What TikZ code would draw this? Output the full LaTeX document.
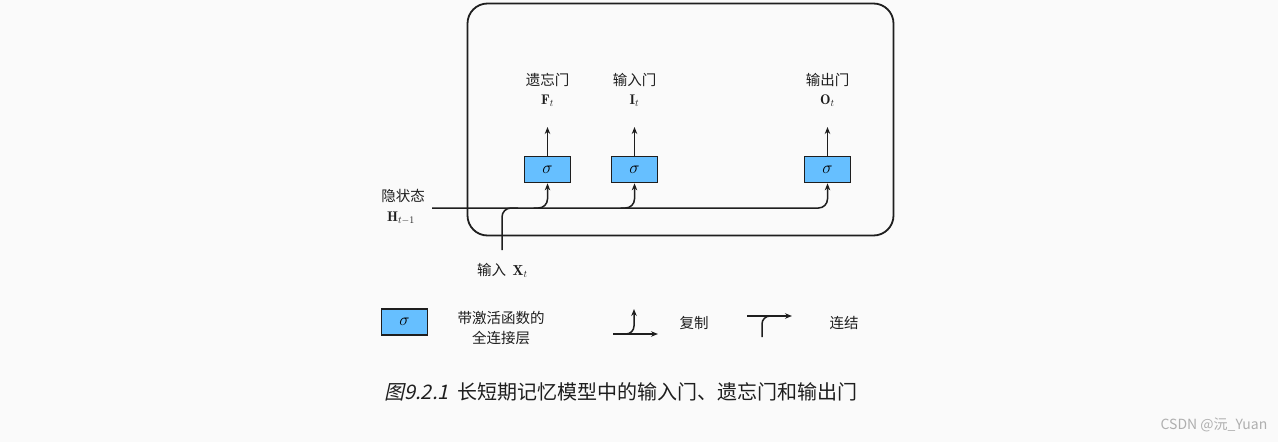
\documentclass[tikz,border=0pt]{standalone}
\usepackage{fontspec}
\newfontfamily\cjk{Noto Sans CJK SC}
\newfontfamily\capitfont[FakeSlant=0.22]{Noto Sans CJK SC}
\usetikzlibrary{arrows.meta}
\definecolor{bg}{RGB}{250,250,250}
\definecolor{sigblue}{RGB}{102,191,255}
\definecolor{ink}{RGB}{30,30,30}
\definecolor{wm}{RGB}{175,175,175}
\begin{document}
\begin{tikzpicture}[x=1pt,y=-1pt,
  >={Stealth[length=7pt,width=5.5pt]},
  wire/.style={draw=ink,line width=1.5pt},
  sigbox/.style={draw=ink,fill=sigblue,line width=1.7pt,minimum width=46pt,minimum height=26pt,inner sep=0pt,font=\fontsize{16}{18}\selectfont},
  lab/.style={inner sep=0pt,text=ink,font=\cjk\fontsize{14.5}{17}\selectfont},
  mlab/.style={inner sep=0pt,text=ink,font=\fontsize{14}{16}\selectfont}]
\useasboundingbox[fill=bg] (0,0) rectangle (1278,442);
% cell
\node[draw=ink,line width=1.8pt,rounded corners=20pt,minimum width=426pt,minimum height=232pt,inner sep=0pt] (cell) at (680.5,119.5) {};
% gates
\node[sigbox] (g1) at (547.5,169.5) {$\sigma$};
\node[sigbox] (g2) at (634.5,169.5) {$\sigma$};
\node[sigbox] (g3) at (827.5,169.5) {$\sigma$};
% labels
\node[lab] (l1) at (547.5,80) {遗忘门};
\node[mlab] (m1) at (547.5,101) {$\mathbf{F}_t$};
\node[lab] (l2) at (634.5,80) {输入门};
\node[mlab] (m2) at (634.5,101) {$\mathbf{I}_t$};
\node[lab] (l3) at (827.5,80) {输出门};
\node[mlab] (m3) at (827.5,101) {$\mathbf{O}_t$};
\coordinate (t1) at (547.5,127);
\coordinate (t2) at (634.5,127);
\coordinate (t3) at (827.5,127);
\draw[wire,->] (g1.north) -- (t1);
\draw[wire,->] (g2.north) -- (t2);
\draw[wire,->] (g3.north) -- (t3);
% inputs
\node[lab] (hl) at (403,196) {隐状态};
\node[mlab] (hm) at (401,218) {$\mathbf{H}_{t-1}$};
\coordinate (hs) at (432,208);
\node[lab,anchor=west] (xl) at (477,270) {输入\ \ $\mathbf{X}_t$};
\coordinate (xs) at (502,250);
\draw[wire,->,rounded corners=9pt] (hs) -| (g3.south);
\draw[wire,->,rounded corners=9pt] ([xshift=-14pt]g1.south |- hs) -| (g1.south);
\draw[wire,->,rounded corners=9pt] ([xshift=-14pt]g2.south |- hs) -| (g2.south);
\draw[wire,rounded corners=9pt] (xs) |- ([xshift=16pt]xs |- hs);
% legend
\node[sigbox] (lg) at (404.5,322) {$\sigma$};
\node[lab,align=center] (lgt) at (501,328) {带激活函数的\\[3pt]全连接层};
\coordinate (c0) at (613,334);
\coordinate (c1) at (658,334);
\coordinate (c2) at (634,309);
\draw[wire,->] (c0) -- (c1);
\draw[wire,->,rounded corners=8pt] ([xshift=-12pt]c2 |- c0) -| (c2);
\node[lab] (cl) at (694,323) {复制};
\coordinate (k0) at (747,316);
\coordinate (k1) at (792,316);
\coordinate (k2) at (762,337);
\draw[wire,->] (k0) -- (k1);
\draw[wire,rounded corners=8pt] (k2) |- ([xshift=14pt]k2 |- k0);
\node[lab] (kl) at (844,323) {连结};
% caption
\node[inner sep=0pt,text=ink,font=\cjk\fontsize{20}{24}\selectfont] (cap) at (621,392) {{\capitfont 图9.2.1}\ \ 长短期记忆模型中的输入门、遗忘门和输出门};
\node[inner sep=0pt,text=wm,font=\cjk\fontsize{14}{16}\selectfont] (wmk) at (1214,425) {CSDN @沅\_Yuan};
\end{tikzpicture}
\end{document}
